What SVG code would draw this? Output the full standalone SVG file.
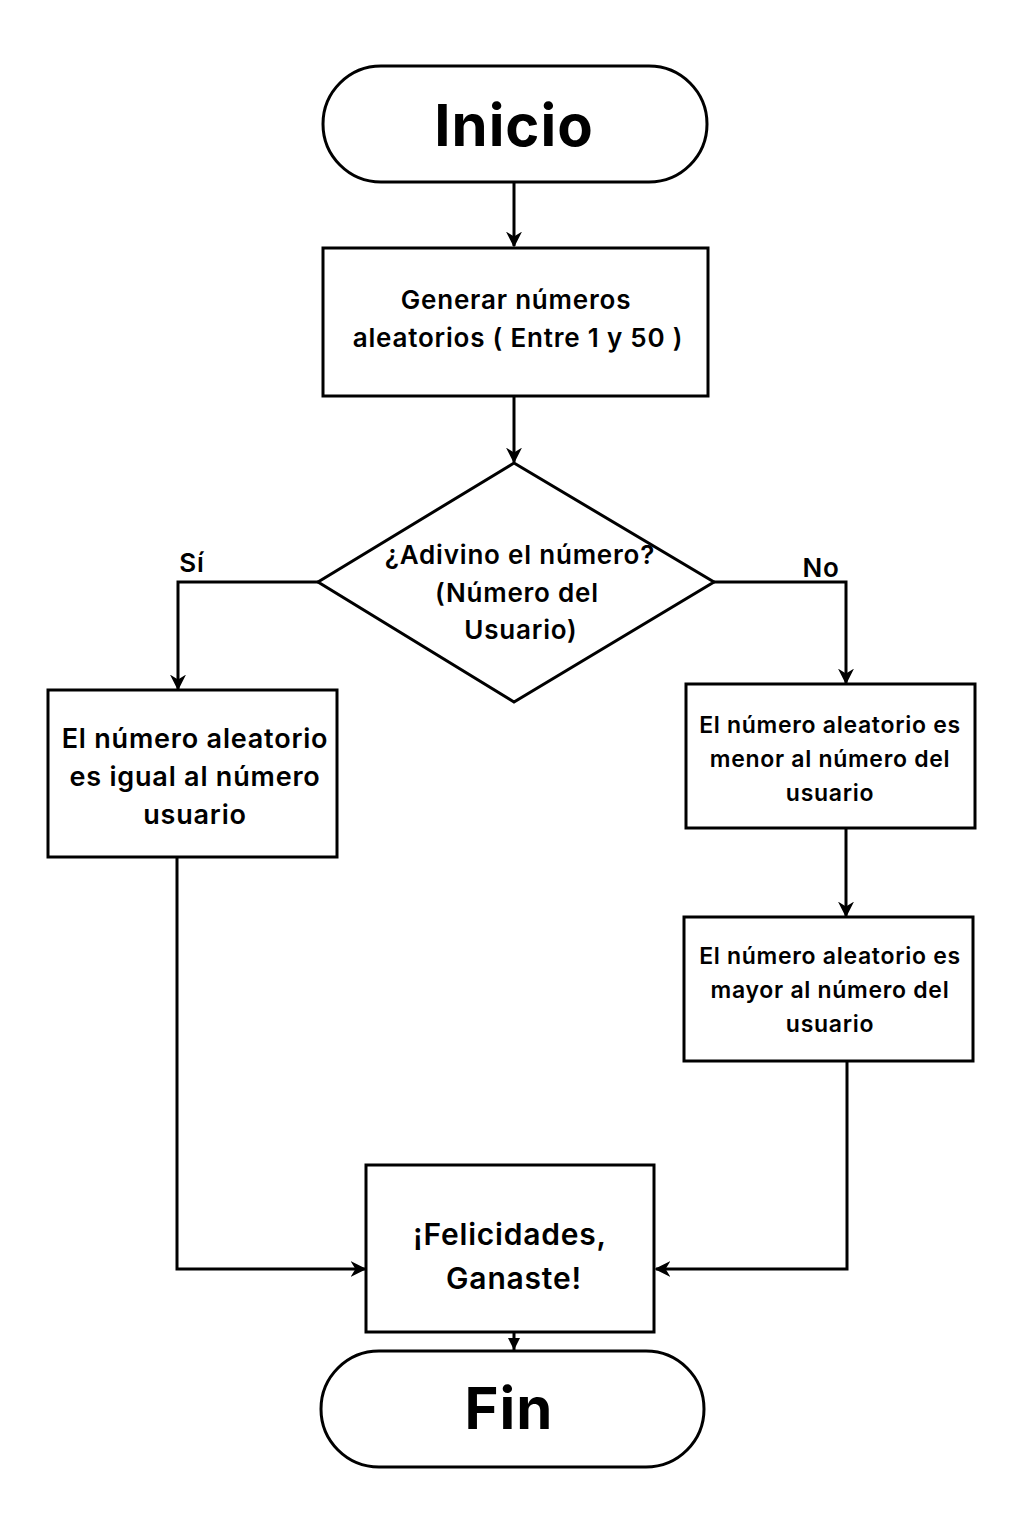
<svg xmlns="http://www.w3.org/2000/svg" width="1024" height="1536" viewBox="0 0 1024 1536">
<style>
.s{fill:#fff;stroke:#000;stroke-width:3}
.c{fill:none;stroke:#000;stroke-width:3}
text{font-family:"Inter","Noto Sans","DejaVu Sans",sans-serif;font-weight:600;fill:#000;text-anchor:middle}
.t{font-size:26px;letter-spacing:0.8px}
.l{font-size:27px;letter-spacing:0.8px}
.r{font-size:23px;letter-spacing:0.7px}
.f{font-size:30px;letter-spacing:0.8px}
.big{font-size:58px;font-weight:700;letter-spacing:1px}
</style>
<defs>
<marker id="a" viewBox="0 0 10 10" refX="10" refY="5" markerWidth="14" markerHeight="12" orient="auto" markerUnits="userSpaceOnUse">
<path d="M0,0 L10,5 L0,10 z" fill="#000"/>
</marker>
<marker id="b" viewBox="0 0 10 10" refX="9" refY="5" markerWidth="16" markerHeight="16" orient="auto" markerUnits="userSpaceOnUse">
<path d="M0,0 L10,5 L0,10 L3,5 z" fill="#000"/>
</marker>
</defs>
<rect width="1024" height="1536" fill="#fff"/>
<g id="connectors">
<path class="c" d="M514,182 V246" marker-end="url(#b)"/>
<path class="c" d="M514,396 V462" marker-end="url(#b)"/>
<path class="c" d="M318,582 H178 V689" marker-end="url(#b)"/>
<path class="c" d="M714,582 H846 V683" marker-end="url(#b)"/>
<path class="c" d="M846,828 V916" marker-end="url(#b)"/>
<path class="c" d="M177,857 V1269 H365" marker-end="url(#b)"/>
<path class="c" d="M847,1061 V1269 H656" marker-end="url(#b)"/>
<path class="c" d="M514,1332 V1350" marker-end="url(#a)"/>
</g>
<g id="inicio">
<rect class="s" x="323" y="66" width="384" height="116" rx="58"/>
<text class="big" x="514" y="146">Inicio</text>
</g>
<g id="generar">
<rect class="s" x="323" y="248" width="385" height="148"/>
<text class="t" x="516" y="309">Generar números</text>
<text class="t" x="518" y="347">aleatorios ( Entre 1 y 50 )</text>
</g>
<g id="decision">
<polygon class="s" points="514,463 714,582 514,702 318,582"/>
<text class="t" x="520" y="564">¿Adivino el número?</text>
<text class="t" x="517" y="602">(Número del</text>
<text class="t" x="521" y="639">Usuario)</text>
</g>
<g id="labels">
<text class="t" x="192" y="572">Sí</text>
<text class="t" x="821" y="577">No</text>
</g>
<g id="igual">
<rect class="s" x="48" y="690" width="289" height="167"/>
<text class="l" x="195" y="748">El número aleatorio</text>
<text class="l" x="195" y="786">es igual al número</text>
<text class="l" x="195" y="824">usuario</text>
</g>
<g id="menor">
<rect class="s" x="686" y="684" width="289" height="144"/>
<text class="r" x="830" y="733">El número aleatorio es</text>
<text class="r" x="830" y="767">menor al número del</text>
<text class="r" x="830" y="801">usuario</text>
</g>
<g id="mayor">
<rect class="s" x="684" y="917" width="289" height="144"/>
<text class="r" x="830" y="964">El número aleatorio es</text>
<text class="r" x="830" y="998">mayor al número del</text>
<text class="r" x="830" y="1032">usuario</text>
</g>
<g id="felicidades">
<rect class="s" x="366" y="1165" width="288" height="167"/>
<text class="f" x="510" y="1245">¡Felicidades,</text>
<text class="f" x="514" y="1289">Ganaste!</text>
</g>
<g id="fin">
<rect class="s" x="321" y="1351" width="383" height="116" rx="58"/>
<text class="big" x="509" y="1429">Fin</text>
</g>
</svg>
